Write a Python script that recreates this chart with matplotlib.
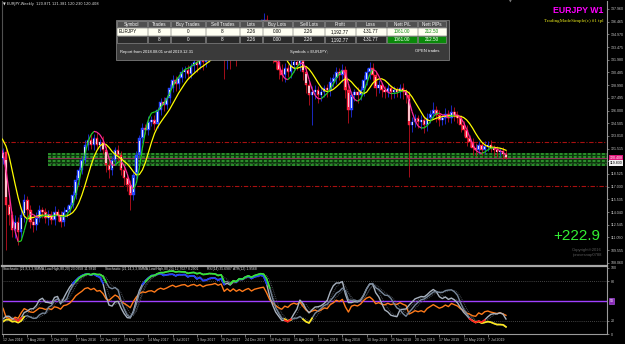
import numpy as np
import pandas as pd
import matplotlib
matplotlib.use("Agg")
import matplotlib.pyplot as plt
from matplotlib.collections import LineCollection
from matplotlib.patches import Rectangle
from matplotlib.transforms import blended_transform_factory

plt.rcParams["font.family"] = ["Liberation Sans", "DejaVu Sans"]

W, H = 625, 344

# EURJPY weekly bars (open of a bar = previous close).
# a few weeks before 12 Jun 2016 sit left of the window, they only feed the indicators
PRE_OPEN = 123.50
PRE_CLOSE = [124.3, 126.9, 126.3, 125.4, 127.6, 123.2, 122.9, 124.9, 122.5,
             123.3, 123.3, 123.6, 123.9, 120.6, 120.30]
PRE_UP = [0.9, 0.8, 1.0, 0.7, 0.8, 0.9, 0.7, 0.8, 0.9, 0.6, 0.7, 0.8, 0.6, 0.9, 0.7]
PRE_DN = [0.8, 0.7, 0.9, 0.8, 0.6, 1.0, 0.8, 0.7, 0.9, 0.7, 0.6, 0.8, 0.7, 0.8, 0.9]

# visible bars, from 12 Jun 2016
CLOSE = [
    121.11, 114.87, 113.69, 111.93, 112.87, 111.69, 113.69, 115.46, 114.28, 112.87,
    112.52, 113.34, 114.28, 114.05, 113.34, 113.69, 113.10, 114.05, 113.69, 112.87,
    114.05, 114.28, 114.87, 116.05, 117.82, 119.00, 120.17, 121.94, 122.53, 121.94,
    122.76, 121.94, 122.29, 121.35, 119.58, 119.00, 120.17, 121.35, 120.76, 119.00,
    118.05, 117.23, 116.05, 118.41, 120.76, 122.76, 123.94, 123.71, 124.65, 124.88,
    124.41, 126.06, 127.00, 126.65, 127.48, 128.65, 129.60, 129.12, 129.83, 130.54,
    130.77, 130.30, 131.25, 131.72, 131.36, 132.19, 131.72, 132.54, 132.89, 133.13,
    133.72, 133.37, 134.07, 132.54, 133.72, 133.13, 134.31, 133.72, 134.54, 134.07,
    134.90, 135.49, 134.90, 135.72, 136.08, 136.43, 136.66, 135.49, 133.72, 132.54,
    131.72, 130.77, 130.18, 131.01, 130.54, 131.36, 131.72, 131.36, 131.95, 130.54,
    129.01, 127.83, 128.18, 128.42, 127.83, 128.18, 128.65, 128.42, 129.36, 129.83,
    130.54, 130.18, 130.77, 128.42, 126.06, 127.83, 128.18, 127.83, 128.42, 129.60,
    130.54, 131.01, 130.18, 128.65, 129.01, 128.42, 128.18, 128.65, 128.18, 128.42,
    128.18, 128.65, 128.18, 127.83, 124.29, 124.65, 125.12, 124.65, 124.88, 124.29,
    125.12, 125.59, 126.06, 125.47, 124.88, 125.12, 125.59, 125.12, 125.83, 125.47,
    125.12, 124.29, 123.71, 122.76, 122.29, 121.59, 121.35, 121.94, 121.35, 121.82,
    121.94, 121.59, 121.35, 121.11, 121.23, 120.871, 120.408,
]
UP_WICK = [
    0.5, 0.6, 0.7, 0.5, 0.8, 0.6, 0.9, 0.7, 0.5, 0.6,
    0.5, 0.7, 0.6, 0.4, 0.5, 0.6, 0.5, 0.7, 0.4, 0.5,
    0.6, 0.5, 0.4, 0.5, 0.6, 0.4, 0.5, 0.6, 0.7, 0.8,
    0.5, 0.6, 0.4, 0.7, 0.5, 0.6, 0.5, 0.4, 0.6, 0.5,
    0.7, 0.5, 0.6, 0.4, 0.5, 0.4, 0.6, 0.5, 0.7, 0.5,
    0.6, 0.4, 0.5, 0.6, 0.4, 0.5, 0.6, 0.5, 0.4, 0.6,
    0.5, 0.6, 0.4, 0.5, 0.7, 0.4, 0.5, 0.6, 0.4, 0.5,
    0.6, 0.5, 0.4, 0.6, 0.5, 0.4, 0.5, 0.6, 0.4, 0.5,
    0.4, 0.5, 0.6, 0.4, 0.5, 0.4, 0.83, 0.6, 0.5, 0.7,
    0.6, 0.5, 0.7, 0.6, 0.5, 0.8, 0.6, 0.5, 0.7, 0.5,
    0.6, 0.5, 0.7, 0.6, 0.5, 0.6, 0.4, 0.5, 0.6, 0.5,
    0.6, 0.5, 0.7, 0.5, 0.6, 0.5, 0.4, 0.6, 0.5, 0.6,
    0.5, 0.7, 0.6, 0.5, 0.6, 0.4, 0.5, 0.6, 0.4, 0.5,
    0.4, 0.5, 0.6, 0.4, 0.5, 0.6, 0.5, 0.4, 0.6, 0.5,
    0.6, 0.5, 0.94, 0.5, 0.6, 0.5, 0.7, 0.5, 0.8, 0.6,
    0.5, 0.4, 0.5, 0.6, 0.4, 0.5, 0.6, 0.5, 0.4, 0.6,
    0.5, 0.6, 0.4, 0.5, 0.4, 0.5, 0.51,
]
DN_WICK = [
    0.6, 5.3, 1.2, 0.8, 0.9, 1.5, 0.7, 0.8, 0.9, 0.7,
    0.8, 0.6, 0.5, 0.7, 0.6, 0.8, 0.5, 0.6, 0.7, 0.6,
    0.5, 0.6, 0.5, 0.4, 0.5, 0.6, 0.5, 0.4, 0.6, 0.5,
    0.6, 0.5, 0.7, 0.5, 0.8, 0.9, 0.6, 0.5, 0.7, 0.6,
    0.8, 0.7, 1.8, 0.6, 0.5, 0.4, 0.6, 0.5, 0.6, 0.5,
    0.7, 0.5, 0.6, 0.7, 0.5, 0.6, 0.5, 0.8, 0.6, 0.5,
    0.7, 0.6, 0.5, 0.7, 0.8, 0.5, 0.9, 0.6, 0.8, 0.7,
    0.9, 1.2, 0.8, 2.8, 1.6, 2.2, 1.0, 2.5, 1.4, 2.0,
    0.8, 0.6, 1.0, 0.7, 0.6, 0.8, 0.7, 1.2, 0.9, 1.0,
    0.8, 1.1, 0.7, 0.8, 0.6, 0.7, 0.8, 0.6, 0.7, 0.9,
    1.0, 1.2, 3.5, 0.8, 0.9, 0.7, 0.6, 0.8, 0.7, 0.6,
    0.7, 0.6, 0.8, 0.9, 1.5, 0.8, 0.7, 0.9, 0.6, 0.7,
    0.6, 0.8, 0.7, 0.9, 0.6, 0.8, 0.7, 0.6, 0.8, 0.7,
    0.6, 0.7, 0.8, 0.9, 6.1, 0.8, 0.6, 0.7, 0.8, 0.9,
    0.7, 0.6, 0.5, 0.8, 0.7, 0.6, 0.7, 0.5, 0.6, 0.7,
    0.6, 0.8, 0.7, 0.9, 0.6, 0.8, 0.7, 0.5, 0.6, 0.5,
    0.6, 0.5, 0.7, 0.6, 0.5, 0.6, 0.178,
]

PRICE_TICKS = [137.960, 136.465, 134.970, 133.475, 131.980, 130.485, 128.990,
               127.495, 126.000, 124.505, 123.010, 121.515, 120.020, 118.525,
               117.030, 115.535, 114.040, 112.545, 111.050, 109.555, 108.060]
DATES = ["12 Jun 2016", "7 Aug 2016", "2 Oct 2016", "27 Nov 2016", "22 Jan 2017",
         "19 Mar 2017", "14 May 2017", "9 Jul 2017", "3 Sep 2017", "29 Oct 2017",
         "24 Dec 2017", "18 Feb 2018", "15 Apr 2018", "10 Jun 2018", "5 Aug 2018",
         "30 Sep 2018", "25 Nov 2018", "20 Jan 2019", "17 Mar 2019", "12 May 2019",
         "7 Jul 2019"]
DATE_BARS = [0, 8, 16, 24, 32, 40, 48, 56, 64, 72, 80, 88, 96, 104, 112, 120,
             128, 136, 144, 152, 160]

RED_LEVELS = [122.29, 117.11]
ZONE = (119.47, 121.00)
ZONE_LINES = [120.88, 120.55, 120.05, 119.60]
BID = 120.408
OTHER_LEVEL = 119.83

HEADERS = ["Symbol", "Trades", "Buy Trades", "Sell Trades", "Lots", "Buy Lots",
           "Sell Lots", "Profit", "Loss", "Nett P/L", "Nett PIPs"]
ROW1 = ["EURJPY", "8", "0", "8", "2.26", "0.00", "2.26", "1,192.77", "-131.77",
        "1061.00", "212.50"]
ROW2 = ["", "8", "0", "8", "2.26", "0.00", "2.26", "1,192.77", "-131.77",
        "1061.00", "212.50"]
COL_EDGES = [117, 148, 171, 206, 240, 263, 293, 325, 356, 387, 418, 447]

# --- bars and indicators
allc = PRE_CLOSE + CLOSE
close = pd.Series(allc)
opn = pd.Series([PRE_OPEN] + allc[:-1])
top = np.maximum(opn, close)
bot = np.minimum(opn, close)
high = top + pd.Series(PRE_UP + UP_WICK)
low = bot - pd.Series(PRE_DN + DN_WICK)
x = np.arange(len(allc)) - len(PRE_CLOSE)


def wma(s, k):
    def f(a):
        w = np.arange(1, len(a) + 1)
        return np.dot(a, w) / w.sum()
    return s.rolling(k, min_periods=1).apply(f, raw=True)


yellow = close.rolling(6, min_periods=1).mean().rolling(3, min_periods=1).mean()
fast = wma(2 * wma(close, 5) - wma(close, 10), 3)


def stoch(k, slow, sig):
    ll = low.rolling(k, min_periods=1).min()
    hh = high.rolling(k, min_periods=1).max()
    raw = 100 * (close - ll) / (hh - ll)
    main = raw.ewm(alpha=1 / slow, adjust=False).mean()
    return main.values, main.rolling(sig, min_periods=1).mean().values


sto_a, sig_a = stoch(8, 3, 3)
sto_b, sig_b = stoch(14, 3, 3)
delta = close.diff().fillna(0)
up = delta.clip(lower=0).ewm(alpha=1 / 14, adjust=False).mean()
dn = (-delta.clip(upper=0)).ewm(alpha=1 / 14, adjust=False).mean()
rsi = (100 - 100 / (1 + up / dn.replace(0, np.nan))).fillna(50).values


def rect(l, t, r, b):
    return [l / W, 1 - b / H, (r - l) / W, (b - t) / H]


fig = plt.figure(figsize=(W / 100, H / 100), dpi=100, facecolor="black")
XLIM = (-0.33, 199.34)
GRAY = "#c8c8c8"

# --- main price window
ax = fig.add_axes(rect(2, 1, 607, 264))
ax.set_facecolor("black")
ax.set_xlim(*XLIM)
ax.set_ylim(107.92, 138.90)
for s in ("top", "bottom"):
    ax.spines[s].set_visible(False)
ax.spines["right"].set_color("#9a9a9a")
ax.spines["left"].set_color("#505050")
ax.set_xticks([])
ax.yaxis.tick_right()
ax.set_yticks(PRICE_TICKS)
ax.set_yticklabels([f"{v:.3f}" for v in PRICE_TICKS])
ax.tick_params(axis="y", colors=GRAY, labelsize=2.6, length=1.5, width=0.4, pad=1)

ax.axhline(RED_LEVELS[0], color="#a81010", lw=0.8, ls=(0, (4, 1.5, 1, 1.5)), zorder=1)
ax.axhline(RED_LEVELS[1], xmin=28 / 605, color="#a81010", lw=0.8,
           ls=(0, (4, 1.5, 1, 1.5)), zorder=1)
ax.axhspan(*ZONE, xmin=46 / 605, color="#0b380b", lw=0, zorder=1)
for lv in ZONE_LINES:
    ax.axhline(lv, xmin=46 / 605, color="#2e962e", lw=1.3, ls=(0, (1.6, 1.0)), zorder=1)
ax.axhline(BID, xmin=46 / 605, color="#c8307a", lw=0.5, zorder=1.5)
ax.axhline(OTHER_LEVEL, xmin=46 / 605, color="#7a8a7a", lw=0.4, ls=":", zorder=1.5)

bull = (close >= opn).values
ax.vlines(x, low, high, colors=np.where(bull, "#1f2fe0", "#c0101e"), lw=0.6, zorder=3)
ax.bar(x, (close - opn).values, bottom=opn.values, width=0.85,
       color=np.where(bull, "#2848ff", "#ff2440"),
       edgecolor=np.where(bull, "#2848ff", "#ff2440"), lw=0.3, zorder=3)
ax.bar(x, (close - opn).values * 0.7, bottom=(opn + (close - opn) * 0.15).values,
       width=0.35, color=np.where(bull, "#dce6ff", "#ffc4cc"), lw=0, zorder=3.1)

ax.plot(x, yellow, color="#ffff00", lw=0.9, zorder=4)
pts = np.column_stack([x, fast.values])
segs = np.stack([pts[:-1], pts[1:]], axis=1)
seg_col = np.where(np.diff(fast.values) > 0, "#22cc22", "#ff2a9a")
ax.add_collection(LineCollection(segs, colors=seg_col, lw=0.9, zorder=4.5))

blend = blended_transform_factory(ax.transAxes, ax.transData)
ax.text(1.004, BID, f"{BID:.3f}", transform=blend, ha="left", va="center",
        fontsize=2.6, color="white", zorder=6,
        bbox=dict(boxstyle="square,pad=0.2", fc="#e0157a", ec="none"))
ax.text(1.004, OTHER_LEVEL, f"{OTHER_LEVEL:.3f}", transform=blend, ha="left",
        va="center", fontsize=2.6, color="black", zorder=6,
        bbox=dict(boxstyle="square,pad=0.2", fc="#f0f0f0", ec="none"))

# --- oscillator window
sub = fig.add_axes(rect(2, 266, 607, 334))
sub.set_facecolor("black")
sub.set_xlim(*XLIM)
sub.set_ylim(0, 103)
sub.spines["top"].set_color("#a8a8a8")
sub.spines["top"].set_linewidth(1.6)
sub.spines["bottom"].set_color("#9a9a9a")
sub.spines["right"].set_color("#9a9a9a")
sub.spines["left"].set_color("#505050")
sub.yaxis.tick_right()
sub.set_yticks([0, 20, 80, 100])
sub.set_yticklabels(["0", "20", "80", "100"])
sub.tick_params(axis="y", colors=GRAY, labelsize=2.6, length=1.5, width=0.4, pad=1)
sub.set_xticks(DATE_BARS)
sub.set_xticklabels(DATES, ha="left")
sub.tick_params(axis="x", colors=GRAY, labelsize=2.5, length=2, width=0.4, pad=1)

for lv in (80, 20):
    sub.axhline(lv, color="#5a5a5a", lw=0.6, ls=(0, (1, 1.5)))
sub.axhline(50, color="#a040ff", lw=1.0)
sub.text(1.004, 50, "50", transform=blended_transform_factory(sub.transAxes, sub.transData),
         ha="left", va="center", fontsize=2.6, color="white",
         bbox=dict(boxstyle="square,pad=0.2", fc="#8a2ab8", ec="#c060ff", lw=0.4))

sub.plot(x, sig_a, color="#4a4f58", lw=0.7, ls=(0, (1, 1)))
sub.plot(x, sig_b, color="#4a4f58", lw=0.7, ls=(0, (1, 1)))
sub.plot(x, rsi, color="#ff7a1a", lw=1.0)
sub.plot(x, sto_a, color="#a8b2bf", lw=1.0)
sub.plot(x, sto_b, color="#77879a", lw=1.0)


def band(v, cond):
    m = cond(v)
    m = m | np.r_[m[1:], False] | np.r_[False, m[:-1]]
    return np.where(m, v, np.nan)


sub.plot(x, band(sto_a, lambda v: v > 80), color="#1f3dff", lw=1.2)
sub.plot(x, band(sto_b, lambda v: v > 80), color="#33e633", lw=1.2)
sub.plot(x, band(sto_b, lambda v: v < 20), color="#ffe81a", lw=1.2)
sub.plot(x, band(sto_a, lambda v: v < 20), color="#ff1f1f", lw=1.2)

# --- overlay: labels and trade table
ov = fig.add_axes([0, 0, 1, 1], zorder=10)
ov.set_xlim(0, W)
ov.set_ylim(H, 0)
ov.axis("off")
ov.patch.set_alpha(0)

ov.text(3, 4.5, "\u25bc EURJPY,Weekly  120.871 121.381 120.230 120.408",
        fontsize=2.6, color="#e0e0e0", va="center", family=["DejaVu Sans"])
ov.text(510, 2, "\u25bc", fontsize=2.5, color="#808080", ha="center", va="center",
        family=["DejaVu Sans"])
ov.text(603, 10.5, "EURJPY W1", fontsize=6.3, fontweight="bold", color="#ff00ff",
        ha="right", va="center")
ov.text(603, 21, "TradingMadeSimple(c) #1 tpl", fontsize=3.6, color="#e6e61a",
        ha="right", va="center", family=["Liberation Serif"])
ov.text(600, 236, "+222.9", fontsize=11, color="#33ee33", ha="right", va="center")
ov.text(602, 249.5, "Copyright\u00ae2016", fontsize=3, color="#5a5a5a", ha="right",
        va="center")
ov.text(602, 255, "tprovesnap0788", fontsize=3, color="#5a5a5a", ha="right",
        va="center")

sub_txt = [(3, "Stochastic (21,8,3,3,SMMA,Low/High,80,20) 23.0358 11.5810"),
           (105, "Stochastic (21,14,3,3,SMMA,Low/High,80,20) 12.7027 8.2901"),
           (207, "RSI(14) 35.6987"), (233, "ATR(12) 1.9568")]
for tx, t in sub_txt:
    ov.text(tx, 268.8, t, fontsize=2.4, color="#e0e0e0", va="center")

ov.add_patch(Rectangle((115.5, 19.5), 333, 40.5, fc="#3a3a3a", ec="#8c8c8c", lw=0.5))
rows = [(21, 27.3, HEADERS, "#505050", "white"),
        (28.2, 35.4, ROW1, "#fffff2", "black"),
        (36.2, 43.4, ROW2, "#2a2a2a", "white")]
for ri, (y0, y1, vals, fc, tc) in enumerate(rows):
    for ci, v in enumerate(vals):
        l, r = COL_EDGES[ci], COL_EDGES[ci + 1] - 1
        cfc, ctc = fc, tc
        if ci >= 9 and ri == 1:
            ctc = "#108a10"
        if ci >= 9 and ri == 2:
            cfc = "#0a8a0a"
        ov.add_patch(Rectangle((l, y0), r - l, y1 - y0, fc=cfc,
                               ec="#9a9a9a" if ri != 1 else fc, lw=0.4))
        if ci == 0 and ri == 1:
            ov.text(l + 2, (y0 + y1) / 2, v, fontsize=3.3, color=ctc, va="center")
        else:
            ov.text((l + r) / 2, (y0 + y1) / 2, v, fontsize=3.3, color=ctc,
                    ha="center", va="center")
ov.text(120, 51.5, "Report from 2018.08.01 until 2019.12.31", fontsize=3.0,
        color="white", va="center")
ov.text(290, 51.5, "Symbols = EURJPY;", fontsize=3.0, color="white", va="center")
ov.text(415, 51.5, "OPEN trades", fontsize=3.0, color="white", va="center")

fig.savefig("out.png", dpi=100, facecolor="black")
